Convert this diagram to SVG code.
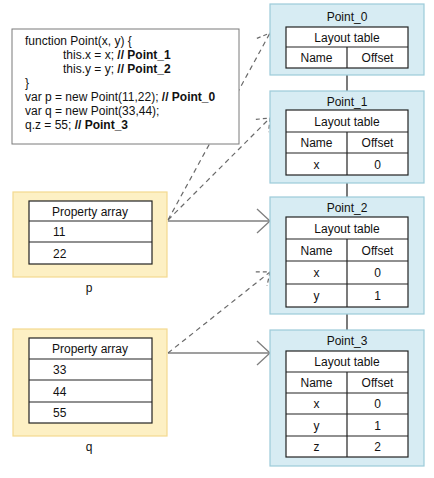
<svg xmlns="http://www.w3.org/2000/svg" width="434" height="478" viewBox="0 0 434 478">
<defs>
<style>
text{font-family:"Liberation Sans",Arial,sans-serif;font-size:12px;fill:#111}
.c{text-anchor:middle}
.b{font-weight:bold}
.point{fill:#d7ecf3;stroke:#9ccbd9;stroke-width:1.2}
.prop{fill:#fdf0c4;stroke:#f3d98f;stroke-width:1.2}
.tbl{fill:#fff;stroke:#222;stroke-width:1.2}
.ln{stroke:#222;stroke-width:1.2;fill:none}
.code{fill:#fff;stroke:#7a7a7a;stroke-width:1}
.solid{stroke:#7f7f7f;stroke-width:1.3;fill:none}
.dash{stroke:#6a6a6a;stroke-width:1.2;fill:none;stroke-dasharray:5 4}
</style>
<marker id="openArrow" markerUnits="userSpaceOnUse" markerWidth="30" markerHeight="30" refX="14" refY="12" orient="auto" overflow="visible">
<path d="M1,0 L14,12 L1,24" fill="none" stroke="#7f7f7f" stroke-width="1.3"/>
</marker>
<marker id="dashArrow" markerUnits="userSpaceOnUse" markerWidth="30" markerHeight="30" refX="12" refY="9" orient="auto" overflow="visible">
<path d="M1,0 L12,9 L1,18" fill="none" stroke="#6a6a6a" stroke-width="1.2" stroke-dasharray="4 3"/>
</marker>
</defs>
<rect width="434" height="478" fill="#fff"/>

<g id="connectors">
<line class="ln" x1="347" y1="75" x2="347" y2="91"/>
<line class="ln" x1="347" y1="183" x2="347" y2="197"/>
<line class="ln" x1="347" y1="314" x2="347" y2="330"/>
<line class="solid" x1="168" y1="221" x2="270" y2="221" marker-end="url(#openArrow)"/>
<line class="solid" x1="168" y1="353" x2="270" y2="353" marker-end="url(#openArrow)"/>
<line class="dash" x1="168" y1="220" x2="270" y2="33" marker-end="url(#dashArrow)"/>
<line class="dash" x1="168" y1="220" x2="270" y2="118" marker-end="url(#dashArrow)"/>
<line class="dash" x1="168" y1="353" x2="270" y2="272" marker-end="url(#dashArrow)"/>
</g>

<g id="code">
<rect class="code" x="12" y="29" width="227" height="115"/>
<text x="25" y="45">function Point(x, y) {</text>
<text x="63" y="59">this.x = x; <tspan class="b">// Point_1</tspan></text>
<text x="63" y="73">this.y = y; <tspan class="b">// Point_2</tspan></text>
<text x="25" y="87">}</text>
<text x="25" y="101">var p = new Point(11,22); <tspan class="b">// Point_0</tspan></text>
<text x="25" y="115">var q = new Point(33,44);</text>
<text x="25" y="129">q.z = 55; <tspan class="b">// Point_3</tspan></text>
</g>

<g id="p">
<rect class="prop" x="13" y="192" width="154" height="85"/>
<rect class="tbl" x="29" y="201" width="123" height="63"/>
<line class="ln" x1="29" y1="221" x2="152" y2="221"/>
<line class="ln" x1="29" y1="242" x2="152" y2="242"/>
<text class="c" x="90" y="215.5">Property array</text>
<text x="53" y="236">11</text>
<text x="53" y="257.5">22</text>
<text class="c" x="89" y="292">p</text>
</g>

<g id="q">
<rect class="prop" x="13" y="329" width="154" height="107"/>
<rect class="tbl" x="29" y="338" width="123" height="85"/>
<line class="ln" x1="29" y1="359" x2="152" y2="359"/>
<line class="ln" x1="29" y1="380" x2="152" y2="380"/>
<line class="ln" x1="29" y1="402" x2="152" y2="402"/>
<text class="c" x="90" y="353">Property array</text>
<text x="53" y="374">33</text>
<text x="53" y="395.5">44</text>
<text x="53" y="417">55</text>
<text class="c" x="89" y="451">q</text>
</g>

<g id="Point_0">
<rect class="point" x="270" y="4" width="154" height="71"/>
<text class="c" x="347" y="20.5">Point_0</text>
<rect class="tbl" x="286" y="27" width="122" height="41"/>
<line class="ln" x1="286" y1="47" x2="408" y2="47"/>
<line class="ln" x1="347" y1="47" x2="347" y2="68"/>
<text class="c" x="347" y="41.5">Layout table</text>
<text class="c" x="316.5" y="62">Name</text>
<text class="c" x="377.5" y="62">Offset</text>
</g>

<g id="Point_1">
<rect class="point" x="270" y="91" width="154" height="92"/>
<text class="c" x="347" y="105.5">Point_1</text>
<rect class="tbl" x="286" y="110" width="122" height="65"/>
<line class="ln" x1="286" y1="132" x2="408" y2="132"/>
<line class="ln" x1="286" y1="153" x2="408" y2="153"/>
<line class="ln" x1="347" y1="132" x2="347" y2="175"/>
<text class="c" x="347" y="125.5">Layout table</text>
<text class="c" x="316.5" y="147">Name</text>
<text class="c" x="377.5" y="147">Offset</text>
<text class="c" x="316.5" y="168.5">x</text>
<text class="c" x="377.5" y="168.5">0</text>
</g>

<g id="Point_2">
<rect class="point" x="270" y="197" width="154" height="117"/>
<text class="c" x="347" y="211.5">Point_2</text>
<rect class="tbl" x="286" y="217" width="122" height="90"/>
<line class="ln" x1="286" y1="239" x2="408" y2="239"/>
<line class="ln" x1="286" y1="261" x2="408" y2="261"/>
<line class="ln" x1="286" y1="284" x2="408" y2="284"/>
<line class="ln" x1="347" y1="239" x2="347" y2="307"/>
<text class="c" x="347" y="232.5">Layout table</text>
<text class="c" x="316.5" y="254.5">Name</text>
<text class="c" x="377.5" y="254.5">Offset</text>
<text class="c" x="316.5" y="277">x</text>
<text class="c" x="377.5" y="277">0</text>
<text class="c" x="316.5" y="300">y</text>
<text class="c" x="377.5" y="300">1</text>
</g>

<g id="Point_3">
<rect class="point" x="270" y="330" width="154" height="136"/>
<text class="c" x="347" y="344.5">Point_3</text>
<rect class="tbl" x="286" y="351" width="122" height="106"/>
<line class="ln" x1="286" y1="372" x2="408" y2="372"/>
<line class="ln" x1="286" y1="393" x2="408" y2="393"/>
<line class="ln" x1="286" y1="414" x2="408" y2="414"/>
<line class="ln" x1="286" y1="436" x2="408" y2="436"/>
<line class="ln" x1="347" y1="372" x2="347" y2="457"/>
<text class="c" x="347" y="366">Layout table</text>
<text class="c" x="316.5" y="387">Name</text>
<text class="c" x="377.5" y="387">Offset</text>
<text class="c" x="316.5" y="408">x</text>
<text class="c" x="377.5" y="408">0</text>
<text class="c" x="316.5" y="429.5">y</text>
<text class="c" x="377.5" y="429.5">1</text>
<text class="c" x="316.5" y="451">z</text>
<text class="c" x="377.5" y="451">2</text>
</g>
</svg>
